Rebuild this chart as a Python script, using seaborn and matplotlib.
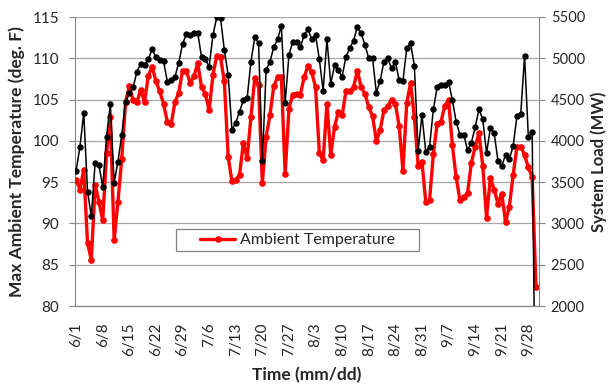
import matplotlib
matplotlib.use('Agg')
import matplotlib.pyplot as plt
from matplotlib.patches import Rectangle
from matplotlib.lines import Line2D
import seaborn as sns
import pandas as pd

# ── Data (daily 6/1 .. 9/30) ─────────────────────────────────
ambient_temp = [
    95.3, 94.1, 96.5, 87.6, 85.6, 94.7, 92.6, 90.4, 98.5, 102.9,
    88.0, 92.6, 97.8, 104.7, 106.6, 104.9, 104.7, 106.2, 104.7, 107.9,
    109.0, 107.2, 106.0, 104.5, 102.3, 102.0, 104.7, 105.8, 108.5, 108.5,
    107.0, 107.8, 109.4, 106.5, 105.7, 103.7, 108.0, 110.3, 110.1, 107.2,
    98.1, 95.1, 95.3, 95.9, 99.7, 97.9, 102.9, 107.6, 106.8, 94.9,
    100.5, 103.1, 106.6, 107.7, 107.7, 96.0, 103.9, 105.6, 105.7, 105.6,
    107.7, 109.1, 108.3, 106.5, 98.5, 97.7, 104.5, 98.3, 101.7, 103.5,
    103.1, 106.0, 106.0, 106.5, 108.5, 106.5, 105.7, 104.1, 103.0, 100.0,
    101.3, 103.7, 104.2, 105.0, 104.5, 101.8, 96.4, 104.6, 107.0, 102.9,
    97.0, 97.5, 92.6, 92.8, 98.4, 102.1, 102.3, 104.2, 105.0, 99.5,
    95.6, 92.8, 93.2, 93.7, 97.3, 99.3, 100.9, 97.0, 90.7, 95.5,
    94.1, 92.4, 93.6, 90.2, 92.0, 95.9, 99.3, 99.3, 98.3, 96.8,
    95.6, 82.3,
]

system_load = [
    3639, 3929, 4337, 3384, 3090, 3736, 3708, 3438, 4050, 4443,
    3494, 3748, 4071, 4475, 4576, 4649, 4838, 4931, 4920, 4988,
    5109, 5012, 4985, 4966, 4717, 4735, 4775, 4945, 5173, 5290,
    5280, 5304, 5310, 5012, 4988, 4898, 5282, 5496, 5484, 5100,
    4798, 4132, 4220, 4353, 4495, 4516, 4959, 5254, 5181, 3760,
    4858, 4959, 5133, 5230, 5391, 4455, 5040, 5201, 5194, 5133,
    5282, 5351, 5230, 5282, 4988, 4608, 5230, 4689, 4919, 4858,
    4777, 5020, 5121, 5213, 5383, 5302, 5161, 5000, 5000, 4583,
    4729, 4959, 5000, 4879, 4959, 4737, 4729, 5121, 5189, 4907,
    3881, 4313, 3869, 3929, 4382, 4649, 4677, 4677, 4717, 4495,
    4232, 4071, 4071, 3889, 3978, 4164, 4382, 4261, 3849, 4152,
    4092, 3760, 3696, 3829, 3777, 3938, 4301, 4325, 5028, 4043,
    4111, 0,
]

week_labels = ['6/1', '6/8', '6/15', '6/22', '6/29', '7/6', '7/13', '7/20',
               '7/27', '8/3', '8/10', '8/17', '8/24', '8/31', '9/7', '9/14',
               '9/21', '9/28']

df = pd.DataFrame({'day': range(len(ambient_temp)),
                   'temp': ambient_temp,
                   'load': system_load})

# ── Style ───────────────────────────────────────────────────
sns.set_style("white")
plt.rcParams['font.family'] = ['Lato', 'DejaVu Sans']
GRID = '#A6A6A6'
AXC = '#868686'

fig = plt.figure(figsize=(6.1, 3.9), dpi=100)
ax = fig.add_axes([75 / 610, 1 - 306 / 390, 464 / 610, 289 / 390])
ax2 = ax.twinx()

# left axis – temperature
sns.lineplot(data=df, x='day', y='temp', ax=ax, color='#FF0000',
             linewidth=2.4, marker='o', markersize=4.8, markeredgewidth=0,
             legend=False, zorder=3)

# right axis – system load
sns.lineplot(data=df, x='day', y='load', ax=ax2, color='black',
             linewidth=1.1, marker='o', markersize=4.6, markeredgewidth=0,
             legend=False, zorder=3)

ax.set_ylim(80, 115)
ax2.set_ylim(2000, 5500)
ax.set_xlim(-0.3, 121.8)
ax.set_yticks(range(80, 116, 5))
ax2.set_yticks(range(2000, 5501, 500))
ax.set_xticks(range(0, 7 * len(week_labels), 7))
ax.set_xticklabels(week_labels, rotation=90)

ax.grid(axis='y', color=GRID, linewidth=0.9)
ax.set_axisbelow(True)
ax2.grid(False)

for a in (ax, ax2):
    a.spines['top'].set_visible(False)
    for side in ('bottom', 'left', 'right'):
        a.spines[side].set_color(AXC)
    a.tick_params(colors='#262626', labelsize=11, width=0.8)
ax.spines['right'].set_visible(False)
ax2.spines['left'].set_visible(False)
ax.tick_params(axis='x', color=AXC, length=5, pad=7)
ax.tick_params(axis='y', color=AXC, length=4.5, pad=7)
ax2.tick_params(axis='y', color=AXC, length=4.5, pad=4, labelsize=10.5)

ax.set_xlabel('Time (mm/dd)', fontsize=12.5, fontweight='bold', labelpad=8)
ax.set_ylabel('Max Ambient Temperature (deg. F)', fontsize=12.5,
              fontweight='bold', labelpad=5)
ax2.set_ylabel('System Load (MW)', fontsize=12, fontweight='bold',
               labelpad=4)

# legend box (only the temperature series is listed)
box = Rectangle(((176 - 75) / 464, (306 - 251) / 289), 243 / 464, 22 / 289,
                transform=ax2.transAxes, facecolor='white',
                edgecolor='#808080', linewidth=0.9, zorder=6)
ax2.add_patch(box)
handle = Line2D([], [], color='#FF0000', linewidth=2.4, marker='o',
                markersize=4.8, markeredgewidth=0)
leg = ax2.legend([handle], ['Ambient Temperature'], loc='center',
                 bbox_to_anchor=((297.5 - 75) / 464, (306 - 240) / 289),
                 frameon=False, fontsize=11.5, handlelength=2.2,
                 handletextpad=0.3, borderpad=0.1)
leg.set_zorder(7)

fig.savefig('out.png', dpi=100)
